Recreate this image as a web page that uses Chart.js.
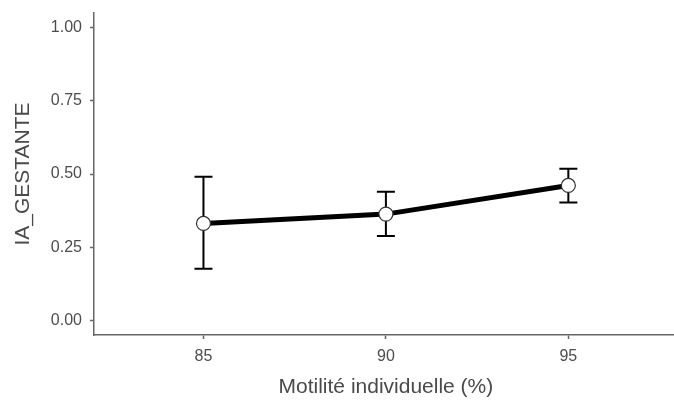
<!DOCTYPE html>
<html>
<head>
<meta charset="utf-8">
<script src="https://cdn.jsdelivr.net/npm/chart.js@4/dist/chart.umd.min.js"></script>
<style>
  html, body { margin: 0; padding: 0; background: #fff; overflow: hidden; }
  #wrap { width: 686px; height: 403px; }
</style>
</head>
<body>
<div id="wrap"><canvas id="motiliteChart" width="686" height="403"></canvas></div>
<script>
// motilité individuelle (%) vs IA_GESTANTE, mean with error bars
const motilite = [85, 90, 95];
const gestante = [0.331, 0.363, 0.461];
const errLow = [0.176, 0.288, 0.403];
const errHigh = [0.491, 0.439, 0.518];
const xTicks = [85, 90, 95];
const yTicks = [0.00, 0.25, 0.50, 0.75, 1.00];

const axisGrey = '#666666';
const labelGrey = '#4d4d4d';
const titleGrey = '#4a4a4a';

// vertical error bars with caps, drawn under the line and points
const errorBars = {
    id: 'errorBars',
    beforeDatasetsDraw(chart) {
        const ctx = chart.ctx;
        const xs = chart.scales.x;
        const ys = chart.scales.y;
        ctx.save();
        ctx.strokeStyle = '#000';
        ctx.lineWidth = 2;
        motilite.forEach(function (m, i) {
            const px = xs.getPixelForValue(m);
            const top = ys.getPixelForValue(errHigh[i]);
            const bot = ys.getPixelForValue(errLow[i]);
            ctx.beginPath();
            ctx.moveTo(px, top);
            ctx.lineTo(px, bot);
            ctx.moveTo(px - 9, top);
            ctx.lineTo(px + 9, top);
            ctx.moveTo(px - 9, bot);
            ctx.lineTo(px + 9, bot);
            ctx.stroke();
        });
        ctx.restore();
    }
};

const ctx = document.getElementById('motiliteChart').getContext('2d');
const motiliteChart = new Chart(ctx, {
    type: 'line',
    data: {
        datasets: [{
            data: motilite.map(function (m, i) { return { x: m, y: gestante[i] }; }),
            borderColor: '#000',
            borderWidth: 5,
            pointRadius: 7,
            pointBorderWidth: 1.2,
            pointBorderColor: '#333',
            pointBackgroundColor: '#fff',
            tension: 0
        }]
    },
    options: {
        responsive: false,
        animation: false,
        layout: { padding: { top: 13, left: 0, right: 0, bottom: 0 } },
        plugins: {
            legend: { display: false },
            tooltip: { enabled: false }
        },
        scales: {
            x: {
                type: 'linear',
                min: 82,
                max: 98,
                afterBuildTicks(scale) {
                    scale.ticks = xTicks.map(function (v) { return { value: v }; });
                },
                afterFit(scale) { scale.height = 68; },
                border: { display: true, color: axisGrey, width: 1.5 },
                grid: { display: true, drawOnChartArea: false, drawTicks: true, tickLength: 4, color: axisGrey, tickWidth: 1.5 },
                ticks: {
                    color: labelGrey,
                    font: { family: 'Liberation Sans', size: 16 },
                    padding: 8,
                    maxRotation: 0
                },
                title: {
                    display: true,
                    text: 'Motilité individuelle (%)',
                    color: titleGrey,
                    font: { family: 'Liberation Sans', size: 21 },
                    padding: { top: 4, bottom: 3 }
                }
            },
            y: {
                min: -0.05,
                max: 1.05,
                afterBuildTicks(scale) {
                    scale.ticks = yTicks.map(function (v) { return { value: v }; });
                },
                afterFit(scale) {
                    scale.width = 94;
                    scale.paddingTop = 0;
                    scale.paddingBottom = 0;
                },
                border: { display: true, color: axisGrey, width: 1.5 },
                grid: { display: true, drawOnChartArea: false, drawTicks: true, tickLength: 4, color: axisGrey, tickWidth: 1.5 },
                ticks: {
                    color: labelGrey,
                    font: { family: 'Liberation Sans', size: 16 },
                    padding: 8,
                    callback: function (v) { return v.toFixed(2); }
                },
                title: {
                    display: true,
                    text: 'IA_GESTANTE',
                    color: titleGrey,
                    font: { family: 'Liberation Sans', size: 21 },
                    padding: { top: 11, bottom: 4 }
                }
            }
        }
    },
    plugins: [errorBars]
});
</script>
</body>
</html>
